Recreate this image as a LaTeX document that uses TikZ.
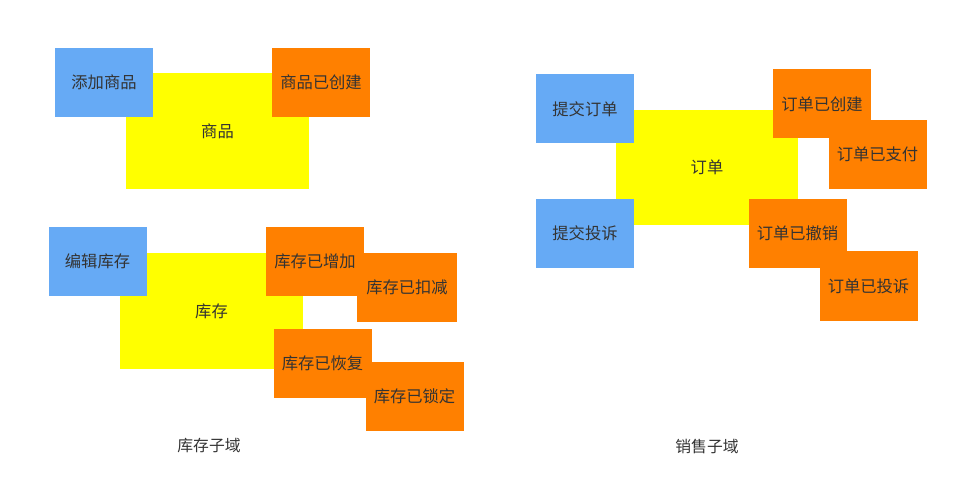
\documentclass[tikz,border=0pt]{standalone}
\usepackage{fontspec}
\setmainfont{Noto Sans CJK SC}
\definecolor{evblue}{HTML}{66AAF5}
\definecolor{evorange}{HTML}{FF8000}
\definecolor{evyellow}{HTML}{FFFF00}
\definecolor{evtext}{HTML}{333333}
\begin{document}
\begin{tikzpicture}[x=1pt,y=-1pt,
  box/.style={rectangle,inner sep=0pt,minimum width=98pt,minimum height=69pt,
    text=evtext,font=\fontsize{16.3}{18}\selectfont},
  cmd/.style={box,fill=evblue},
  evt/.style={box,fill=evorange},
  agg/.style={box,fill=evyellow,minimum width=183pt,minimum height=116pt},
  captxt/.style={text=evtext,font=\fontsize{15.8}{18}\selectfont,inner sep=0pt}]
\useasboundingbox[fill=white] (0,0) rectangle (959,497);
% goods
\node[agg] (goods) at (217.5,131.5) {商品};
\node[cmd] (addgoods) at (104,82.5) {添加商品};
\node[evt] (goodscreated) at (321,82.5) {商品已创建};
% stock
\node[agg] (stock) at (211.5,311) {库存};
\node[cmd] (editstock) at (97.5,261.5) {编辑库存};
\node[evt] (stockinc) at (315,261.5) {库存已增加};
\node[evt,minimum width=100pt] (stockdec) at (407,287.5) {库存已扣减};
\node[evt] (stockrest) at (322.5,363.5) {库存已恢复};
\node[evt] (stocklock) at (414.5,396.5) {库存已锁定};
% order
\node[agg,minimum width=182pt,minimum height=115pt] (order) at (707,167.5) {订单};
\node[cmd] (submitorder) at (585,109) {提交订单};
\node[cmd] (submitcompl) at (585,233.5) {提交投诉};
\node[evt] (ordercreated) at (822,104) {订单已创建};
\node[evt] (orderpaid) at (877.5,154.5) {订单已支付};
\node[evt] (ordercancel) at (797.5,233.5) {订单已撤销};
\node[evt] (ordercompl) at (868.5,286) {订单已投诉};
% captions
\node[captxt] (cap1) at (209,446) {库存子域};
\node[captxt] (cap2) at (707,446) {销售子域};
\end{tikzpicture}
\end{document}
